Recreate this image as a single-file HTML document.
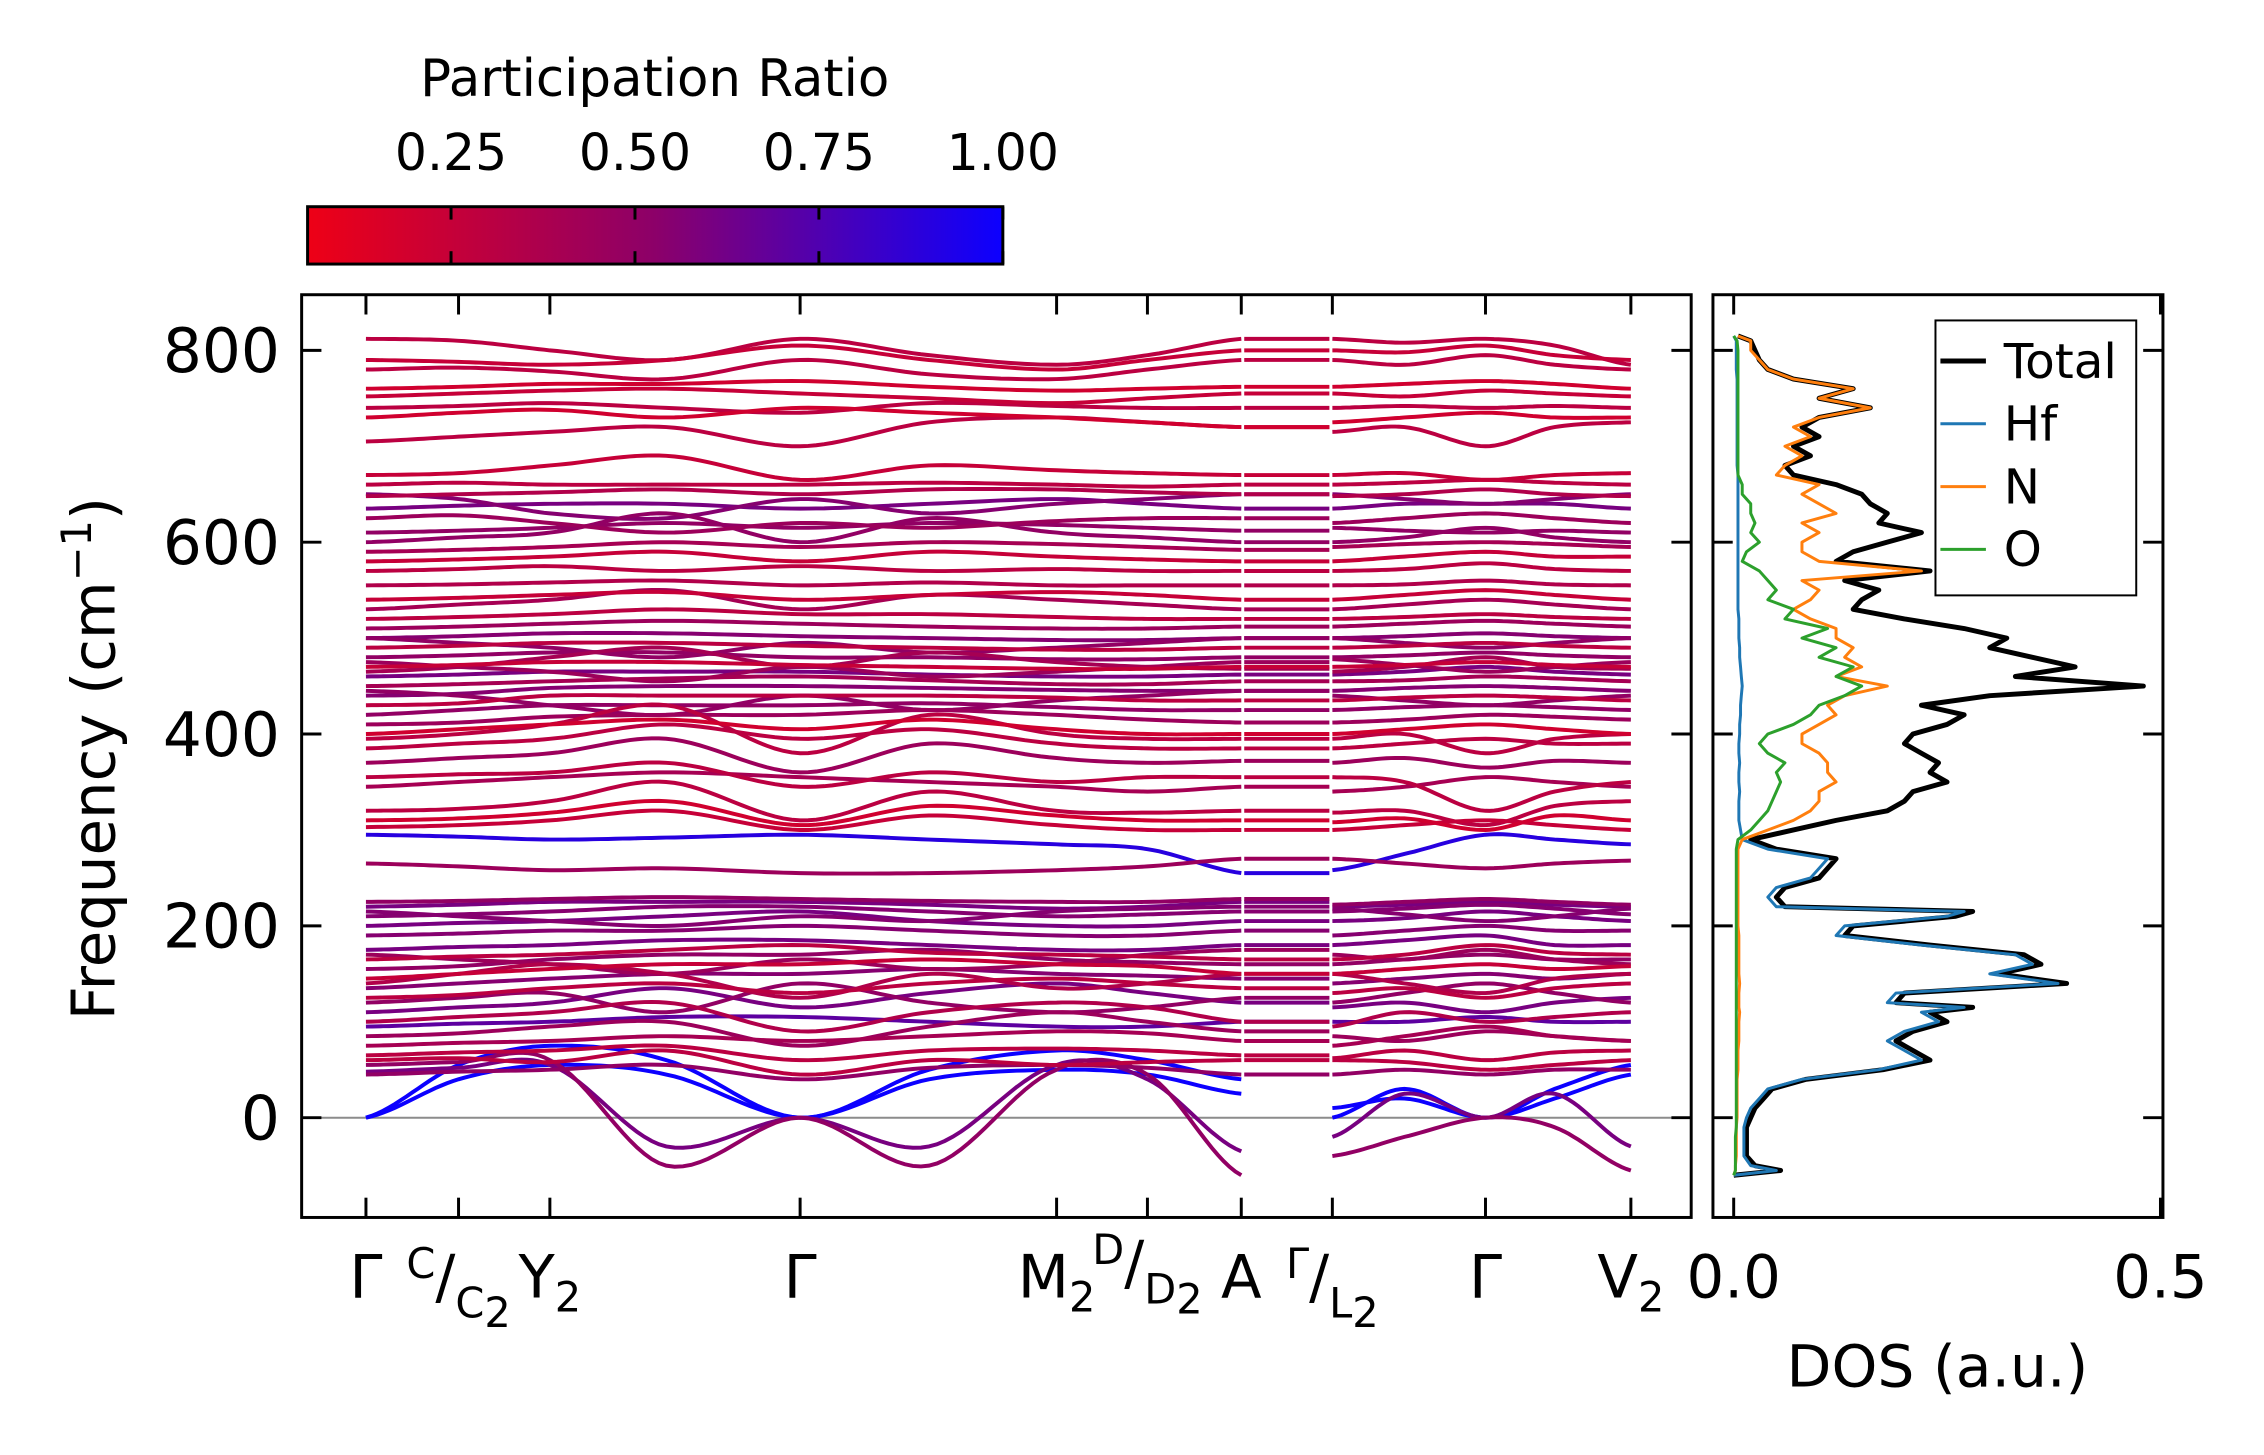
<!DOCTYPE html>
<html><head><meta charset="utf-8"><style>
html,body{margin:0;padding:0;background:#fff;}
svg{display:block;font-family:"DejaVu Sans","Liberation Sans",sans-serif;}
</style></head><body>
<svg id="chart" width="2264" height="1455" viewBox="0 0 2264 1455" xmlns="http://www.w3.org/2000/svg">
<defs>
<linearGradient id="cmap" x1="0" x2="1" y1="0" y2="0">
<stop offset="0" stop-color="rgb(238,0,22)"/>
<stop offset="0.5" stop-color="rgb(140,0,105)"/>
<stop offset="1" stop-color="rgb(12,0,255)"/>
</linearGradient>
<clipPath id="mainclip"><rect x="305" y="298" width="1405" height="933"/></clipPath>
<clipPath id="dosclip"><rect x="1732" y="298" width="455" height="933"/></clipPath>
</defs>
<rect width="2264" height="1455" fill="#fff"/>
<g id="root" transform="scale(0.989)">
<g id="colorbar">
<text x="662" y="97" font-size="52" text-anchor="middle">Participation Ratio</text>
<rect x="311" y="209" width="703" height="58" fill="url(#cmap)" stroke="#000" stroke-width="3"/>
</g>
<g id="bands" clip-path="url(#mainclip)"></g>
<g id="dos" clip-path="url(#dosclip)"></g>
<g id="axes"></g>
</g>
</svg>
<script>
// ---------- band structure data ----------
const kTicks = [0, 0.37, 0.735, 1.735, 2.76, 3.123, 3.498, 3.862, 4.474, 5.055];
const kLeft = [0, 0.37, 0.735, 1.2, 1.735, 2.25, 2.76, 3.123, 3.498];
const kRight = [3.862, 4.15, 4.474, 4.75, 5.055];
const yTicks = [0, 200, 400, 600, 800];
const cbTicks = [0.25, 0.50, 0.75, 1.00];
const prRange = [0.055, 1.0];
const bandsLeft = [
[0,55,75,60,0,50,70,60,40],[0,40,55,45,0,40,50,45,25],
[55,58,60,-50,0,-50,50,45,-60],[48,52,55,-30,0,-30,55,40,-35],
[60,62,58,70,45,60,55,58,60],[65,68,70,75,60,70,72,70,65],[85,88,95,100,75,95,110,100,90],
[100,105,110,120,90,110,120,115,100],[110,115,120,135,115,130,140,130,120],[125,128,135,140,130,140,145,140,135],
[135,140,145,150,150,155,150,148,145],[145,150,155,160,160,165,160,158,150],[155,158,165,170,170,175,165,162,160],
[165,168,170,175,180,172,170,168,165],[175,178,180,185,185,180,175,175,180],[190,192,195,195,200,195,190,190,195],
[200,203,205,210,215,205,200,200,205],[210,212,215,220,220,215,210,212,215],[220,222,225,225,225,222,218,220,225],
[225,226,228,230,228,226,225,225,228],[265,262,258,260,255,255,258,262,270],[295,293,290,292,295,290,285,280,255],
[45,48,50,55,40,52,55,52,45],[75,78,80,85,80,85,90,88,80],[95,98,100,105,105,100,95,95,100],
[303,305,310,320,300,315,305,300,300],[310,312,318,330,305,325,315,310,310],[320,322,330,350,310,340,320,318,320],
[345,350,355,360,355,350,345,340,345],[355,358,360,370,345,360,350,355,355],[370,375,380,395,360,390,375,370,372],
[385,390,395,410,395,405,390,385,385],[400,405,410,415,405,415,405,400,400],[410,412,418,420,420,425,420,415,412],
[420,425,430,430,430,432,428,425,425],[430,432,440,440,440,440,438,435,435],[440,442,448,450,450,448,446,445,445],
[450,452,455,458,460,456,452,452,455],[460,462,465,465,465,462,460,460,462],[470,472,475,475,472,470,468,468,470],
[480,482,485,485,480,480,478,478,480],[490,492,495,495,492,490,488,488,490],[500,502,505,505,502,500,498,498,500],
[510,512,515,518,515,512,510,510,512],[520,522,525,530,525,525,522,520,520],[540,542,545,548,540,545,548,545,540],
[555,556,558,560,555,558,555,555,555],[570,572,575,570,575,570,572,570,570],[580,582,585,590,580,590,585,582,580],
[590,592,595,600,595,600,598,595,592],[610,612,615,620,615,620,618,615,612],[625,628,620,610,620,615,622,625,625],
[635,638,640,640,635,640,645,640,635],[648,650,652,655,650,655,655,652,650],[660,662,660,660,660,662,660,658,660],
[670,672,680,690,665,680,675,672,670],[705,710,715,720,700,725,730,725,720],[730,735,738,730,740,735,730,725,720],
[740,742,745,740,735,745,742,740,740],[752,755,758,760,755,750,745,750,755],[760,762,765,765,768,762,758,760,762],
[780,782,778,770,790,775,770,780,790],[790,788,785,790,805,790,780,790,800],[812,810,800,790,812,795,785,795,812],
[140,150,160,150,125,150,135,140,150],[170,165,160,150,165,155,160,170,175],[120,125,130,110,140,120,110,115,125],
[215,210,205,200,210,205,215,218,220],[465,470,480,490,470,485,475,470,468],[445,440,430,420,440,425,435,440,445],
[475,470,465,455,470,460,465,470,475],[395,400,410,430,380,420,400,395,395],[530,535,540,550,530,545,540,535,530],
[600,605,610,630,600,625,610,605,600],[650,645,630,625,645,630,640,645,650],[500,495,490,480,495,485,490,495,500]
];
const bandsRight = [
[0,30,0,30,55],[10,20,0,20,45],
[-40,-20,0,-10,-55],[-20,25,0,25,-30],
[60,58,50,55,60],[62,70,60,68,70],[85,80,90,85,80],
[95,110,100,105,110],[115,120,110,120,125],[130,135,125,135,140],
[140,145,150,145,150],[150,155,160,155,158],[160,165,170,165,165],
[165,170,180,172,170],[180,185,190,180,180],[190,195,200,195,195],
[205,208,215,210,205],[215,218,222,218,212],[220,222,225,222,220],
[222,225,228,225,222],[270,265,260,265,268],[258,275,295,290,285],
[45,50,45,50,50],[75,85,95,85,80],[100,100,105,100,100],
[300,305,310,305,300],[308,312,300,315,310],[318,320,305,325,330],
[340,345,355,350,345],[355,350,320,340,350],[370,375,365,372,370],
[385,390,395,390,390],[400,405,410,405,400],[412,415,420,418,415],
[425,428,430,428,425],[435,438,440,438,435],[445,448,450,448,445],
[455,456,460,458,455],[462,465,470,465,462],[470,472,475,472,470],
[480,482,485,482,480],[490,492,495,492,490],[500,502,505,502,500],
[512,515,518,515,512],[520,522,525,522,520],[540,545,550,545,540],
[555,556,560,556,555],[570,572,578,572,570],[580,585,590,585,585],
[595,598,600,598,595],[615,612,610,612,610],[620,625,630,625,620],
[635,640,640,640,635],[648,650,655,650,648],[660,662,665,662,660],
[670,672,665,670,672],[715,720,700,720,725],[725,730,735,730,730],
[740,742,740,742,740],[755,752,758,755,752],[762,765,768,765,760],
[790,785,795,785,780],[800,798,805,795,790],[812,808,812,805,785],
[150,140,130,145,150],[170,165,175,165,160],[120,130,140,130,120],
[218,212,205,210,218],[465,470,480,470,468],[440,435,430,435,440],
[478,472,465,470,475],[395,400,380,395,400],[530,535,540,535,530],
[600,605,615,605,600],[650,645,640,645,650],[500,495,490,495,500]
];
const bandPR = [1.0,1.0,0.5,0.6,0.3,0.3,0.45,0.35,0.6,0.3,0.55,0.25,0.5,0.3,0.6,0.55,0.6,0.55,0.6,0.5,0.45,0.9,0.5,0.4,0.7,
0.25,0.2,0.3,0.4,0.3,0.45,0.3,0.2,0.45,0.5,0.3,0.55,0.4,0.6,0.25,0.5,0.3,0.55,0.45,0.3,0.25,0.35,0.3,0.25,0.4,0.5,0.45,0.6,0.35,0.3,0.25,0.3,0.2,0.3,0.25,0.2,0.3,0.25,0.3,
0.35,0.45,0.5,0.55,0.4,0.5,0.45,0.3,0.4,0.5,0.55,0.5];

// ---------- DOS data ----------
const dosFreq = [-60,-55,-50,-40,-30,-20,-10,0,10,20,30,40,50,60,70,80,90,100,110,115,120,130,140,150,160,170,180,190,200,210,215,220,230,240,250,260,270,280,290,300,310,320,330,340,350,360,370,380,390,400,410,420,430,440,450,460,470,480,490,500,510,520,530,540,550,560,570,580,590,600,610,620,630,640,650,660,670,680,690,700,710,720,730,740,750,760,770,780,790,800,810,815];
const dosHf = [0,0.05,0.02,0.012,0.012,0.012,0.012,0.015,0.02,0.03,0.04,0.08,0.17,0.22,0.2,0.18,0.2,0.24,0.22,0.27,0.18,0.19,0.38,0.3,0.35,0.33,0.22,0.12,0.13,0.25,0.27,0.05,0.04,0.05,0.09,0.1,0.11,0.04,0.01,0.008,0.006,0.006,0.006,0.007,0.006,0.006,0.007,0.006,0.006,0.007,0.007,0.008,0.008,0.009,0.01,0.009,0.008,0.007,0.007,0.006,0.006,0.006,0.005,0.005,0.005,0.005,0.005,0.005,0.005,0.005,0.005,0.005,0.005,0.005,0.005,0.005,0.005,0.004,0.004,0.004,0.004,0.004,0.004,0.004,0.004,0.004,0.004,0.003,0.003,0.003,0.003,0];
const dosN = [0,0.002,0.002,0.003,0.003,0.003,0.003,0.004,0.004,0.004,0.004,0.004,0.005,0.005,0.005,0.006,0.006,0.006,0.007,0.006,0.006,0.006,0.007,0.006,0.006,0.006,0.006,0.006,0.005,0.005,0.005,0.005,0.005,0.005,0.005,0.005,0.005,0.005,0.01,0.04,0.07,0.09,0.1,0.1,0.12,0.11,0.11,0.1,0.08,0.08,0.1,0.12,0.11,0.13,0.18,0.12,0.15,0.13,0.14,0.12,0.12,0.09,0.07,0.09,0.1,0.08,0.22,0.1,0.08,0.08,0.1,0.08,0.12,0.1,0.08,0.1,0.05,0.06,0.08,0.06,0.09,0.07,0.1,0.16,0.1,0.14,0.07,0.04,0.03,0.02,0.02,0.005];
const dosO = [0,0.002,0.002,0.002,0.002,0.002,0.003,0.003,0.003,0.003,0.003,0.003,0.003,0.003,0.003,0.003,0.003,0.003,0.003,0.003,0.003,0.003,0.003,0.003,0.003,0.003,0.003,0.003,0.003,0.003,0.003,0.003,0.003,0.003,0.003,0.003,0.003,0.003,0.005,0.02,0.03,0.04,0.045,0.05,0.055,0.05,0.06,0.04,0.03,0.04,0.07,0.09,0.1,0.13,0.15,0.12,0.14,0.1,0.12,0.08,0.11,0.06,0.07,0.04,0.05,0.04,0.03,0.01,0.015,0.03,0.02,0.025,0.02,0.02,0.01,0.01,0.005,0.005,0.005,0.005,0.005,0.005,0.005,0.005,0.005,0.005,0.005,0.005,0.005,0.005,0.004,0];
const dosTotal = [0,0.055,0.025,0.015,0.015,0.015,0.015,0.02,0.025,0.035,0.045,0.085,0.175,0.23,0.21,0.19,0.21,0.25,0.23,0.28,0.19,0.2,0.39,0.31,0.36,0.34,0.23,0.13,0.14,0.26,0.28,0.06,0.05,0.06,0.1,0.11,0.12,0.05,0.02,0.07,0.12,0.18,0.2,0.21,0.25,0.23,0.24,0.22,0.2,0.21,0.25,0.27,0.22,0.3,0.48,0.33,0.4,0.35,0.3,0.32,0.27,0.2,0.14,0.15,0.17,0.13,0.23,0.12,0.14,0.18,0.22,0.17,0.18,0.16,0.15,0.12,0.07,0.06,0.09,0.07,0.1,0.08,0.1,0.16,0.1,0.14,0.07,0.04,0.03,0.025,0.02,0.005];
const legendLabels = ['Total','Hf','N','O'];
const legendColors = ['#000000','#1f77b4','#ff7f0e','#2ca02c'];

// ---------- axes ----------
const NS = 'http://www.w3.org/2000/svg';
const MX0=305, MX1=1710, MY0=298, MY1=1231;
const kDom=[-0.257,5.296], fDom=[-104,858];
const DX0=1732, DX1=2187, dDom=[-0.0243,0.5029];
function xk(k){return MX0+(k-kDom[0])/(kDom[1]-kDom[0])*(MX1-MX0);}
function yf(f){return MY1-(f-fDom[0])/(fDom[1]-fDom[0])*(MY1-MY0);}
function xd(d){return DX0+(d-dDom[0])/(dDom[1]-dDom[0])*(DX1-DX0);}
function cbx(v){return 311+(v-prRange[0])/(prRange[1]-prRange[0])*703;}
function prColor(p){
  let t=Math.max(0,Math.min(1,(p-prRange[0])/(prRange[1]-prRange[0])));
  let a,b,u;
  if(t<0.5){a=[238,0,22];b=[140,0,105];u=t/0.5;}else{a=[140,0,105];b=[12,0,255];u=(t-0.5)/0.5;}
  return 'rgb('+a.map((v,i)=>Math.round(v+(b[i]-v)*u)).join(',')+')';
}
function mk(tag,attrs,parent){const e=document.createElementNS(NS,tag);for(const k in attrs)e.setAttribute(k,attrs[k]);parent.appendChild(e);return e;}
function spline(ks,vs){
  let pts=[];
  for(let i=0;i<ks.length-1;i++){
    const p0=vs[Math.max(0,i-1)],p1=vs[i],p2=vs[i+1],p3=vs[Math.min(vs.length-1,i+2)];
    const k0=ks[i],k1=ks[i+1];
    for(let s=0;s<16;s++){
      const t=s/16,t2=t*t,t3=t2*t;
      const v=0.5*((2*p1)+(-p0+p2)*t+(2*p0-5*p1+4*p2-p3)*t2+(-p0+3*p1-3*p2+p3)*t3);
      pts.push([xk(k0+(k1-k0)*t),yf(v)]);
    }
  }
  pts.push([xk(ks[ks.length-1]),yf(vs[vs.length-1])]);
  return 'M'+pts.map(p=>p[0].toFixed(1)+','+p[1].toFixed(1)).join('L');
}
const gB=document.getElementById('bands');
const zl=mk('line',{x1:MX0,x2:MX1,y1:yf(0),y2:yf(0),stroke:'#8c8c8c','stroke-width':2},gB);


const order=bandsLeft.map((_,i)=>i).sort((a,b)=>bandPR[b]-bandPR[a]);
order.forEach(i=>{
  const c=prColor(bandPR[i]);
  const pl=mk('path',{d:spline(kLeft,bandsLeft[i]),fill:'none',stroke:c,'stroke-width':4},gB);
  
  
  const pr=mk('path',{d:spline(kRight,bandsRight[i]),fill:'none',stroke:c,'stroke-width':4},gB);
  
  
  const v=bandsLeft[i][bandsLeft[i].length-1];
  if(bandPR[i]<0.99 && v>0){
    const pm=mk('line',{x1:xk(kTicks[6])+3,x2:xk(kTicks[7])-3,y1:yf(v),y2:yf(v),stroke:c,'stroke-width':4},gB);
    
    
  }
});
const gD=document.getElementById('dos');
function dosLine(arr,color,w,name){
  const d='M'+arr.map((v,i)=>xd(v).toFixed(1)+','+yf(dosFreq[i]).toFixed(1)).join('L');
  const p=mk('path',{d:d,fill:'none',stroke:color,'stroke-width':w,'stroke-linejoin':'round'},gD);
  
  
}
dosLine(dosTotal,'#000',5,'dos-total-line');
dosLine(dosHf,'#1f77b4',3,'dos-hf-line');
dosLine(dosN,'#ff7f0e',3,'dos-n-line');
dosLine(dosO,'#2ca02c',3,'dos-o-line');

const gA=document.getElementById('axes');
function frame(x0,x1,name){
  const r=mk('rect',{x:x0,y:MY0,width:x1-x0,height:MY1-MY0,fill:'none',stroke:'#000','stroke-width':3},gA);
  
  
}
frame(MX0,MX1,'band-axes-frame');
frame(DX0,DX1,'dos-axes-frame');
const TL=20;
yTicks.forEach(v=>{
  const y=yf(v);
  mk('line',{x1:MX0,x2:MX0+TL,y1:y,y2:y,stroke:'#000','stroke-width':3},gA);
  mk('line',{x1:MX1,x2:MX1-TL,y1:y,y2:y,stroke:'#000','stroke-width':3},gA);
  mk('line',{x1:DX0,x2:DX0+TL,y1:y,y2:y,stroke:'#000','stroke-width':3},gA);
  mk('line',{x1:DX1,x2:DX1-TL,y1:y,y2:y,stroke:'#000','stroke-width':3},gA);
  const t=mk('text',{x:MX0-22,y:y+22,'font-size':62,'text-anchor':'end'},gA);
  t.textContent=String(v);
  
  
});
kTicks.forEach(k=>{
  const x=xk(k);
  mk('line',{x1:x,x2:x,y1:MY0,y2:MY0+TL,stroke:'#000','stroke-width':3},gA);
  mk('line',{x1:x,x2:x,y1:MY1,y2:MY1-TL,stroke:'#000','stroke-width':3},gA);
});
[0,0.5].forEach(v=>{
  const x=xd(v);
  mk('line',{x1:x,x2:x,y1:MY0,y2:MY0+TL,stroke:'#000','stroke-width':3},gA);
  mk('line',{x1:x,x2:x,y1:MY1,y2:MY1-TL,stroke:'#000','stroke-width':3},gA);
  const t=mk('text',{x:x,y:1312,'font-size':60,'text-anchor':'middle'},gA);
  t.textContent=v.toFixed(1);
  
  
});
function kLabel(k,parts,name){
  const t=mk('text',{x:xk(k),y:1312,'font-size':60,'text-anchor':'middle'},gA);
  
  
  parts.forEach(p=>{
    const s=mk('tspan',{},t);
    if(p[1]==='sup'){s.setAttribute('font-size',42);s.setAttribute('dy',p[2]||-20);}
    if(p[1]==='sub'){s.setAttribute('font-size',42);s.setAttribute('dy',p[2]||20);}
    if(p[1]==='back'){s.setAttribute('dy',p[2]);}
    s.textContent=p[0];
  });
}
kLabel(kTicks[0],[['Γ']],'k-label-gamma-1');
kLabel(kTicks[1],[['C','sup'],['/','back',20],['C','sub',20],['2','sub',10]],'k-label-c-c2');
kLabel(kTicks[2],[['Y'],['2','sub',14]],'k-label-y2');
kLabel(kTicks[3],[['Γ']],'k-label-gamma-2');
kLabel(kTicks[4],[['M'],['2','sub',14]],'k-label-m2');
kLabel(kTicks[5],[['D','sup',-34],['/','back',20],['D','sub',20],['2','sub',10]],'k-label-d-d2');
kLabel(kTicks[6],[['A']],'k-label-a');
kLabel(kTicks[7],[['Γ','sup'],['/','back',20],['L','sub',20],['2','sub',10]],'k-label-gamma-l2');
kLabel(kTicks[8],[['Γ']],'k-label-gamma-3');
kLabel(kTicks[9],[['V'],['2','sub',14]],'k-label-v2');
const yt=mk('text',{x:0,y:0,'font-size':60,'text-anchor':'middle',transform:'translate(116,767) rotate(-90)'},gA);


yt.innerHTML='Frequency (cm<tspan font-size="42" dy="-24">−1</tspan><tspan dy="24">)</tspan>';
const dt=mk('text',{x:1959,y:1402,'font-size':59,'text-anchor':'middle'},gA);
dt.textContent='DOS (a.u.)';


const gC=document.getElementById('colorbar');
cbTicks.forEach(v=>{
  const x=cbx(v);
  mk('line',{x1:x,x2:x,y1:209,y2:222,stroke:'#000','stroke-width':3},gC);
  mk('line',{x1:x,x2:x,y1:254,y2:267,stroke:'#000','stroke-width':3},gC);
  const t=mk('text',{x:x,y:172,'font-size':51,'text-anchor':'middle'},gC);
  t.textContent=v.toFixed(2);
  
  
});
const gL=mk('g',{},gA);


mk('rect',{x:1957,y:324,width:203,height:278,fill:'#fff',stroke:'#000','stroke-width':2},gL);
legendLabels.forEach((lab,i)=>{
  const y=365+i*63.5;
  mk('line',{x1:1962,x2:2008,y1:y,y2:y,stroke:legendColors[i],'stroke-width':i===0?5:3},gL);
  const t=mk('text',{x:2026,y:y+17,'font-size':49},gL);
  t.textContent=lab;
  
  
});
</script>
</body></html>
